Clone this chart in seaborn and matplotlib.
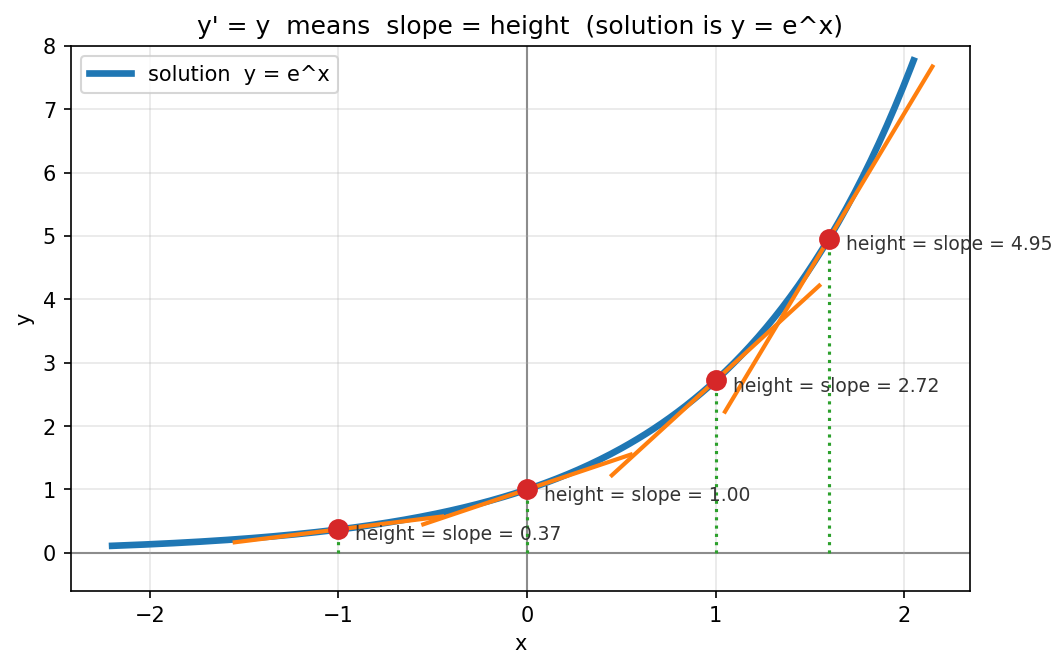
import matplotlib
matplotlib.use("Agg")
import matplotlib.pyplot as plt
import numpy as np
import seaborn as sns

# points where height = slope is shown
point_x = [-1.0, 0.0, 1.0, 1.6]
point_y = [0.37, 1.00, 2.72, 4.95]
half_width = 0.55

plt.rcParams['font.family'] = ['DejaVu Sans']

fig, ax = plt.subplots(figsize=(7.03, 4.47), dpi=150)

# solution curve y = e^x
xs = np.linspace(-2.2, 2.05, 300)
sns.lineplot(x=xs, y=np.exp(xs), ax=ax, color="#1f77b4", linewidth=3.2,
             label="solution  y = e^x", zorder=3)

ax.axhline(0, color="gray", linewidth=1, zorder=1)
ax.axvline(0, color="gray", linewidth=1, zorder=1)

for px, py in zip(point_x, point_y):
    tx = np.array([px - half_width, px + half_width])
    ax.plot(tx, py + py * (tx - px), color="#ff7f0e", linewidth=2, zorder=4)
    ax.plot([px, px], [0, py], color="#2ca02c", linestyle=":", linewidth=1.5, zorder=2)
    ax.plot(px, py, "o", color="#d62728", markersize=9, zorder=5)
    ax.text(px + 0.09, py - 0.08, f"height = slope = {py:.2f}", fontsize=9,
            color="#333333", va="center", zorder=6)

ax.set_xlim(-2.42, 2.35)
ax.set_ylim(-0.6, 8)
ax.set_xticks([-2, -1, 0, 1, 2])
ax.grid(True, alpha=0.3)
ax.set_xlabel("x")
ax.set_ylabel("y")
ax.set_title("y' = y  means  slope = height  (solution is y = e^x)")
ax.legend(loc="upper left")

fig.subplots_adjust(left=0.067, right=0.920, top=0.931, bottom=0.118)
fig.savefig("out.png", dpi=150)
